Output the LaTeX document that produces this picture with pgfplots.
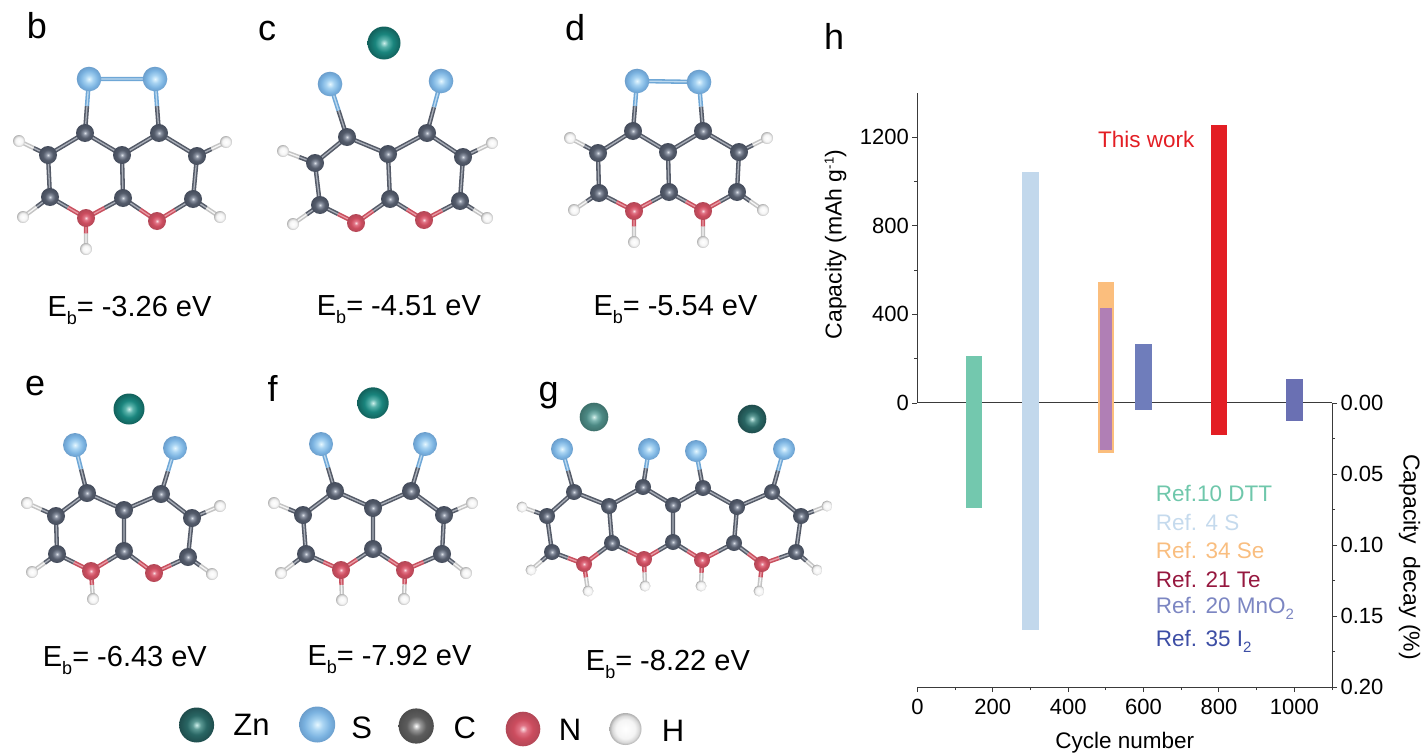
\documentclass[border=0pt]{standalone}
\usepackage{fontspec}
\setmainfont{Liberation Sans}
\usepackage{pgfplots}
\pgfplotsset{compat=1.18}

\definecolor{axisgray}{HTML}{3A3A3A}
\definecolor{bondC}{HTML}{555B68}
\definecolor{bondCs}{HTML}{A9AEB8}
\definecolor{bondS}{HTML}{6FA7D6}
\definecolor{bondSs}{HTML}{BCD9EF}
\definecolor{bondN}{HTML}{C8505F}
\definecolor{bondNs}{HTML}{E89AA5}
\definecolor{bondH}{HTML}{C4C4C4}
\definecolor{bondHs}{HTML}{F5F5F5}

% atom shadings: light spot in the middle, darker rim
\pgfdeclareradialshading{shC}{\pgfpointorigin}{rgb(0bp)=(0.85,0.87,0.9);rgb(6bp)=(0.53,0.56,0.62);rgb(14bp)=(0.33,0.36,0.42);rgb(25bp)=(0.27,0.30,0.36);rgb(50bp)=(0.27,0.30,0.36)}
\pgfdeclareradialshading{shS}{\pgfpointorigin}{rgb(0bp)=(0.9,0.97,1);rgb(8bp)=(0.66,0.83,0.95);rgb(18bp)=(0.48,0.7,0.88);rgb(25bp)=(0.42,0.62,0.8);rgb(50bp)=(0.42,0.62,0.8)}
\pgfdeclareradialshading{shN}{\pgfpointorigin}{rgb(0bp)=(0.98,0.86,0.88);rgb(6bp)=(0.88,0.45,0.52);rgb(14bp)=(0.8,0.3,0.37);rgb(25bp)=(0.7,0.28,0.34);rgb(50bp)=(0.7,0.28,0.34)}
\pgfdeclareradialshading{shH}{\pgfpointorigin}{rgb(0bp)=(1,1,1);rgb(15bp)=(0.96,0.96,0.96);rgb(21bp)=(0.85,0.85,0.85);rgb(25bp)=(0.68,0.68,0.68);rgb(50bp)=(0.68,0.68,0.68)}
\pgfdeclareradialshading{shZn}{\pgfpointorigin}{rgb(0bp)=(0.8,0.94,0.92);rgb(6bp)=(0.35,0.7,0.67);rgb(14bp)=(0.1,0.52,0.49);rgb(25bp)=(0.07,0.38,0.36);rgb(50bp)=(0.07,0.38,0.36)}
\pgfdeclareradialshading{shZnA}{\pgfpointorigin}{rgb(0bp)=(0.85,0.95,0.93);rgb(6bp)=(0.5,0.72,0.7);rgb(14bp)=(0.3,0.54,0.52);rgb(25bp)=(0.24,0.44,0.42);rgb(50bp)=(0.24,0.44,0.42)}
\pgfdeclareradialshading{shZnB}{\pgfpointorigin}{rgb(0bp)=(0.8,0.94,0.92);rgb(6bp)=(0.36,0.6,0.58);rgb(14bp)=(0.16,0.4,0.39);rgb(25bp)=(0.12,0.3,0.3);rgb(50bp)=(0.12,0.3,0.3)}
\pgfdeclareradialshading{shCg}{\pgfpointorigin}{rgb(0bp)=(1,1,1);rgb(6bp)=(0.6,0.6,0.6);rgb(14bp)=(0.36,0.36,0.36);rgb(25bp)=(0.3,0.3,0.3);rgb(50bp)=(0.3,0.3,0.3)}

\pgfdeclareplotmark{ballC}{\pgfpathcircle{\pgfpointorigin}{\pgfplotmarksize}\pgfshadepath{shC}{0}\pgfusepath{discard}}
\pgfdeclareplotmark{ballS}{\pgfpathcircle{\pgfpointorigin}{\pgfplotmarksize}\pgfshadepath{shS}{0}\pgfusepath{discard}}
\pgfdeclareplotmark{ballN}{\pgfpathcircle{\pgfpointorigin}{\pgfplotmarksize}\pgfshadepath{shN}{0}\pgfusepath{discard}}
\pgfdeclareplotmark{ballH}{\pgfpathcircle{\pgfpointorigin}{\pgfplotmarksize}\pgfshadepath{shH}{0}\pgfusepath{discard}}
\pgfdeclareplotmark{ballZn}{\pgfpathcircle{\pgfpointorigin}{\pgfplotmarksize}\pgfshadepath{shZn}{0}\pgfusepath{discard}}
\pgfdeclareplotmark{ballZnA}{\pgfpathcircle{\pgfpointorigin}{\pgfplotmarksize}\pgfshadepath{shZnA}{0}\pgfusepath{discard}}
\pgfdeclareplotmark{ballZnB}{\pgfpathcircle{\pgfpointorigin}{\pgfplotmarksize}\pgfshadepath{shZnB}{0}\pgfusepath{discard}}
\pgfdeclareplotmark{ballCg}{\pgfpathcircle{\pgfpointorigin}{\pgfplotmarksize}\pgfshadepath{shCg}{0}\pgfusepath{discard}}

\pgfplotsset{
  bond/.style={no markers,unbounded coords=jump,line cap=butt,line join=round},
}
% one colour of stick: dark body and a thin light stripe
\newcommand\stick[3]{%
  \addplot[bond,draw=#1,line width=4.4pt] coordinates {#3};
  \addplot[bond,draw=#2,line width=1.3pt] coordinates {#3};
}
\newcommand\atoms[3]{\addplot[only marks,mark=#1,mark size=#2pt] coordinates {#3};}
\newcommand\sz[2]{\fontsize{#1}{#1}\selectfont #2}
\newcommand\lowsub[1]{\raisebox{-0.28em}{\fontsize{18}{18}\selectfont #1}}
\newcommand\panel[3]{\node[anchor=base west,inner sep=0pt] at (axis cs:#1,#2) {\sz{36}{#3}};}
\newcommand\eb[3]{\node[anchor=base west,inner sep=0pt] at (axis cs:#1,#2) {\sz{29}{E\lowsub{b}= #3 eV}};}
\newcommand\reflab[3]{\node[anchor=west,inner sep=0pt,text=#2] at (axis cs:1155.7,#1) {\sz{22.5}{#3}};}

\begin{document}
\begin{tikzpicture}
\useasboundingbox (0,0) rectangle (1422pt,755pt);

% pixel canvas for panels b-g
\begin{axis}[
  scale only axis,width=1422pt,height=755pt,
  xmin=0,xmax=1422,ymin=0,ymax=755,y dir=reverse,
  hide axis,clip=false,
]
% b
\stick{bondC}{bondCs}{(48,155)(85,133)(122,155)(159,133)(197,156) (nan,nan) (48,155)(50,197) (nan,nan) (122,155)(123,198) (nan,nan) (197,156)(193,199) (nan,nan) (50,197)(68,207.5) (nan,nan) (123,198)(104.5,208) (nan,nan) (123,198)(140,209.5) (nan,nan) (193,199)(175,210) (nan,nan) (85,133)(87,106) (nan,nan) (159,133)(157,106) (nan,nan) (48,155)(33.5,148) (nan,nan) (197,156)(211.5,149) (nan,nan) (50,197)(36.5,207) (nan,nan) (193,199)(206.5,208)}
\stick{bondS}{bondSs}{(87,106)(89,79) (nan,nan) (157,106)(155,79) (nan,nan) (89,79)(155,79)}
\stick{bondN}{bondNs}{(68,207.5)(86,218)(104.5,208) (nan,nan) (140,209.5)(157,221)(175,210) (nan,nan) (86,218)(86,233.5)}
\stick{bondH}{bondHs}{(33.5,148)(19,141) (nan,nan) (211.5,149)(226,142) (nan,nan) (36.5,207)(23,217) (nan,nan) (206.5,208)(220,217) (nan,nan) (86,233.5)(86,249)}
\atoms{ballH}{6}{(19,141)(226,142)(23,217)(220,217)(86,249)}
\atoms{ballC}{9}{(85,133)(159,133)(48,155)(122,155)(197,156)(50,197)(123,198)(193,199)}
\atoms{ballN}{9}{(86,218)(157,221)}
\atoms{ballS}{12.3}{(89,79)(155,79)}
\panel{26.7}{38.5}{b}
\eb{47.3}{316}{-3.26}
% c
\stick{bondC}{bondCs}{(315,163)(347,137)(388,154)(427,133)(463,157) (nan,nan) (315,163)(320,205) (nan,nan) (388,154)(390,199) (nan,nan) (463,157)(460,201) (nan,nan) (320,205)(338,214) (nan,nan) (390,199)(373,211) (nan,nan) (390,199)(407,209.5) (nan,nan) (460,201)(442,210.5) (nan,nan) (347,137)(338.5,110.5) (nan,nan) (427,133)(434,107) (nan,nan) (315,163)(299,157) (nan,nan) (463,157)(477.5,150) (nan,nan) (320,205)(306.5,214.5) (nan,nan) (460,201)(473.5,209.5)}
\stick{bondS}{bondSs}{(338.5,110.5)(330,84) (nan,nan) (434,107)(441,81)}
\stick{bondN}{bondNs}{(338,214)(356,223)(373,211) (nan,nan) (407,209.5)(424,220)(442,210.5)}
\stick{bondH}{bondHs}{(299,157)(283,151) (nan,nan) (477.5,150)(492,143) (nan,nan) (306.5,214.5)(293,224) (nan,nan) (473.5,209.5)(487,218)}
\atoms{ballH}{6}{(283,151)(492,143)(293,224)(487,218)}
\atoms{ballC}{9}{(347,137)(427,133)(315,163)(388,154)(463,157)(320,205)(390,199)(460,201)}
\atoms{ballN}{9}{(356,223)(424,220)}
\atoms{ballS}{12.3}{(330,84)(441,81)}
\atoms{ballZn}{16.5}{(384,43)}
\panel{258}{40}{c}
\eb{316.7}{315}{-4.51}
% d
\stick{bondC}{bondCs}{(598,153)(633,131)(668,152)(703,131)(739,152) (nan,nan) (598,153)(599,193) (nan,nan) (668,152)(669,192) (nan,nan) (739,152)(737,192) (nan,nan) (599,193)(616.5,202) (nan,nan) (669,192)(651.5,201.5) (nan,nan) (669,192)(686,201.5) (nan,nan) (737,192)(720,201.5) (nan,nan) (633,131)(635,106) (nan,nan) (703,131)(701,106.5) (nan,nan) (598,153)(584,145.5) (nan,nan) (739,152)(753,145) (nan,nan) (599,193)(586.5,201.5) (nan,nan) (737,192)(750,201)}
\stick{bondS}{bondSs}{(635,106)(637,81) (nan,nan) (701,106.5)(699,82) (nan,nan) (637,81)(699,82)}
\stick{bondN}{bondNs}{(616.5,202)(634,211)(651.5,201.5) (nan,nan) (686,201.5)(703,211)(720,201.5) (nan,nan) (634,211)(634,226.5) (nan,nan) (703,211)(703,226.5)}
\stick{bondH}{bondHs}{(584,145.5)(570,138) (nan,nan) (753,145)(767,138) (nan,nan) (586.5,201.5)(574,210) (nan,nan) (750,201)(763,210) (nan,nan) (634,226.5)(634,242) (nan,nan) (703,226.5)(703,242)}
\atoms{ballH}{6}{(570,138)(767,138)(574,210)(763,210)(634,242)(703,242)}
\atoms{ballC}{9}{(633,131)(703,131)(598,153)(668,152)(739,152)(599,193)(669,192)(737,192)}
\atoms{ballN}{9}{(634,211)(703,211)}
\atoms{ballS}{12.3}{(637,81)(699,82)}
\panel{565}{40.7}{d}
\eb{593.3}{315}{-5.54}
% e
\stick{bondC}{bondCs}{(56,516)(87,493)(124,510)(161,494)(192,518) (nan,nan) (56,516)(57,554) (nan,nan) (124,510)(124,551) (nan,nan) (192,518)(188,557) (nan,nan) (57,554)(74,562.5) (nan,nan) (124,551)(107.5,561) (nan,nan) (124,551)(139,562) (nan,nan) (188,557)(171,565) (nan,nan) (87,493)(81,469) (nan,nan) (161,494)(168,471) (nan,nan) (56,516)(41.5,509.5) (nan,nan) (192,518)(206,512) (nan,nan) (57,554)(44.5,563) (nan,nan) (188,557)(200,565.5)}
\stick{bondS}{bondSs}{(81,469)(75,445) (nan,nan) (168,471)(175,448)}
\stick{bondN}{bondNs}{(74,562.5)(91,571)(107.5,561) (nan,nan) (139,562)(154,573)(171,565) (nan,nan) (91,571)(92,585)}
\stick{bondH}{bondHs}{(41.5,509.5)(27,503) (nan,nan) (206,512)(220,506) (nan,nan) (44.5,563)(32,572) (nan,nan) (200,565.5)(212,574) (nan,nan) (92,585)(93,599)}
\atoms{ballH}{6}{(27,503)(220,506)(32,572)(212,574)(93,599)}
\atoms{ballC}{9}{(87,493)(161,494)(56,516)(124,510)(192,518)(57,554)(124,551)(188,557)}
\atoms{ballN}{9}{(91,571)(154,573)}
\atoms{ballS}{12}{(75,445)(175,448)}
\atoms{ballZn}{15.5}{(129,409)}
\panel{25}{395}{e}
\eb{42.7}{666.7}{-6.43}
% f
\stick{bondC}{bondCs}{(303,515)(335,491)(373,508)(411,491)(444,515) (nan,nan) (303,515)(306,554) (nan,nan) (373,508)(373,549) (nan,nan) (444,515)(442,554) (nan,nan) (306,554)(323.5,562) (nan,nan) (373,549)(357,559.5) (nan,nan) (373,549)(389,559.5) (nan,nan) (442,554)(423.5,562) (nan,nan) (335,491)(328,467.5) (nan,nan) (411,491)(418,467.5) (nan,nan) (303,515)(288.5,509) (nan,nan) (444,515)(458,509) (nan,nan) (306,554)(293.5,563.5) (nan,nan) (442,554)(454,563.5)}
\stick{bondS}{bondSs}{(328,467.5)(321,444) (nan,nan) (418,467.5)(425,444)}
\stick{bondN}{bondNs}{(323.5,562)(341,570)(357,559.5) (nan,nan) (389,559.5)(405,570)(423.5,562) (nan,nan) (341,570)(341.5,585) (nan,nan) (405,570)(404.5,584.5)}
\stick{bondH}{bondHs}{(288.5,509)(274,503) (nan,nan) (458,509)(472,503) (nan,nan) (293.5,563.5)(281,573) (nan,nan) (454,563.5)(466,573) (nan,nan) (341.5,585)(342,600) (nan,nan) (404.5,584.5)(404,599)}
\atoms{ballH}{6}{(274,503)(472,503)(281,573)(466,573)(342,600)(404,599)}
\atoms{ballC}{9}{(335,491)(411,491)(303,515)(373,508)(444,515)(306,554)(373,549)(442,554)}
\atoms{ballN}{9}{(341,570)(405,570)}
\atoms{ballS}{12}{(321,444)(425,444)}
\atoms{ballZn}{15.7}{(373,403)}
\panel{267.3}{401.7}{f}
\eb{307.3}{665}{-7.92}
% g
\stick{bondC}{bondCs}{(547,516)(574,492)(609,506)(643,487)(673,505)(703,488)(737,507)(772,492)(801,516) (nan,nan) (547,516)(552,552) (nan,nan) (609,506)(612,543) (nan,nan) (673,505)(673,542) (nan,nan) (737,507)(734,543) (nan,nan) (801,516)(796,552) (nan,nan) (552,552)(568,558) (nan,nan) (612,543)(598,553.5) (nan,nan) (612,543)(628,551) (nan,nan) (673,542)(658.5,550.5) (nan,nan) (673,542)(687.5,551) (nan,nan) (734,543)(718,551.5) (nan,nan) (734,543)(748,553.5) (nan,nan) (796,552)(779,558) (nan,nan) (574,492)(568,470.5) (nan,nan) (643,487)(646,468) (nan,nan) (703,488)(699.5,469.5) (nan,nan) (772,492)(778,470.5) (nan,nan) (547,516)(534.5,511.5) (nan,nan) (801,516)(814,511) (nan,nan) (552,552)(541.5,561) (nan,nan) (796,552)(806.5,561)}
\stick{bondS}{bondSs}{(568,470.5)(562,449) (nan,nan) (646,468)(649,449) (nan,nan) (699.5,469.5)(696,451) (nan,nan) (778,470.5)(784,449)}
\stick{bondN}{bondNs}{(568,558)(584,564)(598,553.5) (nan,nan) (628,551)(644,559)(658.5,550.5) (nan,nan) (687.5,551)(702,560)(718,551.5) (nan,nan) (748,553.5)(762,564)(779,558) (nan,nan) (584,564)(586,577.5) (nan,nan) (644,559)(644.5,572.5) (nan,nan) (702,560)(701.5,573) (nan,nan) (762,564)(760.5,577.5)}
\stick{bondH}{bondHs}{(534.5,511.5)(522,507) (nan,nan) (814,511)(827,506) (nan,nan) (541.5,561)(531,570) (nan,nan) (806.5,561)(817,570) (nan,nan) (586,577.5)(588,591) (nan,nan) (644.5,572.5)(645,586) (nan,nan) (701.5,573)(701,586) (nan,nan) (760.5,577.5)(759,591)}
\atoms{ballH}{5.5}{(522,507)(827,506)(531,570)(817,570)(588,591)(645,586)(701,586)(759,591)}
\atoms{ballC}{8}{(574,492)(643,487)(703,488)(772,492)(547,516)(609,506)(673,505)(737,507)(801,516)(552,552)(612,543)(673,542)(734,543)(796,552)}
\atoms{ballN}{8}{(584,564)(644,559)(702,560)(762,564)}
\atoms{ballS}{11}{(562,449)(649,449)(696,451)(784,449)}
\atoms{ballZnA}{14.3}{(594,417)}
\atoms{ballZnB}{14.3}{(752,419)}
\panel{538.3}{401.7}{g}
\eb{585.7}{670}{-8.22}
% atom key
\atoms{ballZnB}{17.5}{(196.6,725)}
\atoms{ballS}{18}{(317.2,724.5)}
\atoms{ballCg}{17.6}{(416.2,726)}
\atoms{ballN}{17.3}{(523,729)}
\atoms{ballH}{16}{(625.5,729)}
\node[inner sep=0pt] at (axis cs:251.4,724.5) {\sz{31}{Zn}};
\node[inner sep=0pt] at (axis cs:361.7,728) {\sz{31}{S}};
\node[inner sep=0pt] at (axis cs:464.8,728) {\sz{31}{C}};
\node[inner sep=0pt] at (axis cs:570,729.7) {\sz{31}{N}};
\node[inner sep=0pt] at (axis cs:673,731) {\sz{31}{H}};
\panel{824}{49}{h}
% notes of panel h
\node[anchor=west,inner sep=0pt,text={rgb,255:red,227;green,30;blue,36}] at (axis cs:1097.9,139) {\sz{22.5}{This work}};
\reflab{493}{{rgb,255:red,111;green,199;blue,171}}{Ref.10 DTT}
\reflab{522}{{rgb,255:red,197;green,218;blue,237}}{Ref. 4 S}
\reflab{550}{{rgb,255:red,249;green,190;blue,128}}{Ref. 34 Se}
\reflab{579}{{rgb,255:red,150;green,24;blue,63}}{Ref. 21 Te}
\reflab{608.3}{{rgb,255:red,124;green,134;blue,194}}{Ref. 20 MnO\lowsub{\fontsize{15}{15}\selectfont 2}}
\reflab{641.6}{{rgb,255:red,61;green,78;blue,165}}{Ref. 35 I\lowsub{\fontsize{15}{15}\selectfont 2}}
\end{axis}

% capacity, upper half of panel h
\begin{axis}[
  at={(917.4pt,352pt)},anchor=south west,
  scale only axis,width=414.6pt,height=310pt,
  xmin=0,xmax=1100,ymin=0,ymax=1400,
  axis x line=bottom,axis y line=left,
  axis line style={draw=axisgray,line width=1pt,-},
  xtick=\empty,ytick={0,400,800,1200},minor ytick={200,600,1000},
  tick align=outside,tick style={draw=axisgray,line width=0.9pt},
  major tick length=5pt,minor tick length=3pt,
  tick label style={font=\fontsize{22}{22}\selectfont},
  /pgf/number format/assume math mode=true,
  /pgf/number format/set thousands separator={},
  ylabel={Capacity (mAh g\raisebox{0.35em}{\fontsize{13}{13}\selectfont -1})},
  y label style={font=\fontsize{23}{23}\selectfont,at={(axis description cs:-0.1976,0.511)},anchor=center},
  ybar,bar width=16.4pt,bar shift=0pt,
]
\addplot[fill={rgb,255:red,115;green,200;blue,174},draw=none] coordinates {(150,212)};
\addplot[fill={rgb,255:red,194;green,216;blue,236},draw=none] coordinates {(300,1044)};
\addplot[fill={rgb,255:red,251;green,190;blue,125},draw=none] coordinates {(500,545)};
\addplot[fill={rgb,255:red,176;green,127;blue,181},draw=none,bar width=12.5pt] coordinates {(501,431)};
\addplot[fill={rgb,255:red,111;green,125;blue,187},draw=none] coordinates {(600,268)};
\addplot[fill={rgb,255:red,227;green,30;blue,36},draw=none] coordinates {(800,1254)};
\addplot[fill={rgb,255:red,106;green,112;blue,179},draw=none] coordinates {(1000,110)};
\end{axis}

% capacity decay, lower half of panel h
\begin{axis}[
  at={(917.4pt,68pt)},anchor=south west,
  scale only axis,width=414.6pt,height=284pt,
  xmin=0,xmax=1100,ymin=0,ymax=0.2,y dir=reverse,
  axis x line=bottom,axis y line=right,
  axis line style={draw=axisgray,line width=1pt,-},
  xtick={0,200,400,600,800,1000},minor xtick={100,300,500,700,900,1100},
  ytick={0,0.05,0.1,0.15,0.2},minor ytick={0.025,0.075,0.125,0.175},
  tick align=outside,tick style={draw=axisgray,line width=0.9pt},
  major tick length=5pt,minor tick length=3pt,
  tick label style={font=\fontsize{22}{22}\selectfont},
  x tick label style={yshift=-4pt},
  /pgf/number format/assume math mode=true,
  /pgf/number format/set thousands separator={},
  y tick label style={/pgf/number format/fixed,/pgf/number format/fixed zerofill,/pgf/number format/precision=2},
  xlabel={Cycle number},
  x label style={font=\fontsize{22.5}{22.5}\selectfont,at={(axis description cs:0.5,-0.196)},anchor=center},
  ylabel={Capacity\ \ decay (\%)},
  y label style={font=\fontsize{23}{23}\selectfont,at={(axis description cs:1.187,0.458)},anchor=center,rotate=180},
  ybar,bar width=16.4pt,bar shift=0pt,
]
\addplot[fill={rgb,255:red,115;green,200;blue,174},draw=none] coordinates {(150,0.0736)};
\addplot[fill={rgb,255:red,194;green,216;blue,236},draw=none] coordinates {(300,0.160)};
\addplot[fill={rgb,255:red,251;green,190;blue,125},draw=none] coordinates {(500,0.0353)};
\addplot[fill={rgb,255:red,176;green,127;blue,181},draw=none,bar width=12.5pt] coordinates {(501,0.0334)};
\addplot[fill={rgb,255:red,111;green,125;blue,187},draw=none] coordinates {(600,0.0047)};
\addplot[fill={rgb,255:red,227;green,30;blue,36},draw=none] coordinates {(800,0.0225)};
\addplot[fill={rgb,255:red,106;green,112;blue,179},draw=none] coordinates {(1000,0.0128)};
\end{axis}
\end{tikzpicture}
\end{document}
